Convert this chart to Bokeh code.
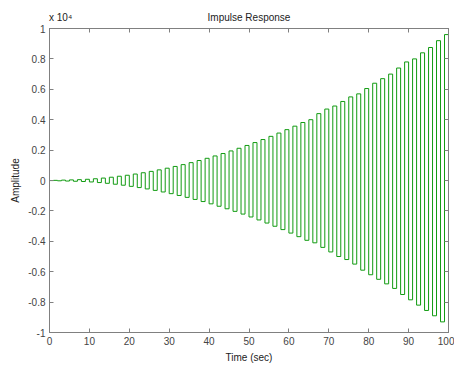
from bokeh.plotting import figure
from bokeh.models import LinearAxis, FixedTicker, Range1d
from bokeh.embed import file_html
from bokeh.resources import INLINE

# sample instants (sec) and impulse response values
time_sec = list(range(0, 100))
response = [
    -5, 10, -20, 25, -35, 40, -50, 55, -65, 80,
    -95, 115, -135, 160, -185, 215, -245, 280, -310, 345,
    -385, 425, -465, 510, -555, 600, -650, 700, -755, 810,
    -865, 925, -985, 1045, -1110, 1175, -1245, 1315, -1385, 1460,
    -1535, 1615, -1695, 1775, -1860, 1945, -2030, 2120, -2210, 2305,
    -2400, 2495, -2595, 2695, -2800, 2905, -3010, 3120, -3230, 3345,
    -3460, 3575, -3695, 3815, -3935, 4000, -4100, 4400, -4400, 4700,
    -4700, 4900, -5000, 5200, -5200, 5500, -5500, 5700, -5900, 6050,
    -6200, 6400, -6500, 6700, -6800, 7000, -7100, 7400, -7500, 7800,
    -7850, 8000, -8200, 8400, -8550, 8750, -8900, 9200, -9300, 9600,
]
t_end = 100

x_ticks = [0, 10, 20, 30, 40, 50, 60, 70, 80, 90, 100]
y_ticks = [-10000, -8000, -6000, -4000, -2000, 0, 2000, 4000, 6000, 8000, 10000]
y_tick_labels = ["-1", "-0.8", "-0.6", "-0.4", "-0.2", "0", "0.2", "0.4", "0.6", "0.8", "1"]
title_text = "Impulse Response"
exponent_text = "x 10\u2074"

FONT = "Liberation Sans"
AX = "#808080"
LBL = "#444444"

p = figure(width=454, height=367, output_backend="svg", toolbar_location=None,
           title=None,
           x_range=Range1d(0, 100), y_range=Range1d(-10000, 10000),
           min_border_left=49, min_border_right=6, min_border_top=28, min_border_bottom=35,
           x_axis_label="Time (sec)", y_axis_label="Amplitude")
p.grid.visible = False
p.outline_line_color = AX
p.background_fill_color = "white"
p.border_fill_color = "white"

xs = time_sec + [t_end]
ys = response + [response[-1]]
p.step(xs, ys, mode="after", line_color="#119b11", line_width=1)

def style(ax):
    ax.axis_line_color = AX
    ax.major_tick_line_color = AX
    ax.major_tick_in = 4
    ax.major_tick_out = 0
    ax.minor_tick_line_color = None
    ax.major_label_text_font = FONT
    ax.major_label_text_font_size = "10px"
    ax.major_label_text_color = LBL
    ax.axis_label_text_font = FONT
    ax.axis_label_text_font_size = "10px"
    ax.axis_label_text_font_style = "normal"
    ax.axis_label_text_color = "#222222"
    ax.major_label_standoff = 4
    ax.axis_label_standoff = 4

p.xaxis.ticker = FixedTicker(ticks=x_ticks)
p.yaxis.ticker = FixedTicker(ticks=y_ticks)
p.yaxis.major_label_overrides = {t: s for t, s in zip(y_ticks, y_tick_labels)}
style(p.xaxis[0])
style(p.yaxis[0])

# top axis: inward ticks; its label row carries the exponent note and the title
top_labels = {t: "" for t in x_ticks}
top_labels[0] = "\u00a0" * 8 + exponent_text
top_labels[50] = title_text
top_ax = LinearAxis(ticker=FixedTicker(ticks=x_ticks))
style(top_ax)
top_ax.major_label_overrides = top_labels
top_ax.major_label_standoff = 6
top_ax.major_label_text_color = "#222222"

right_ax = LinearAxis(ticker=FixedTicker(ticks=y_ticks))
style(right_ax)
right_ax.major_label_overrides = {t: "" for t in y_ticks}
right_ax.major_label_standoff = 0

p.add_layout(top_ax, "above")
p.add_layout(right_ax, "right")

open("out.html", "w").write(file_html(p, INLINE))
